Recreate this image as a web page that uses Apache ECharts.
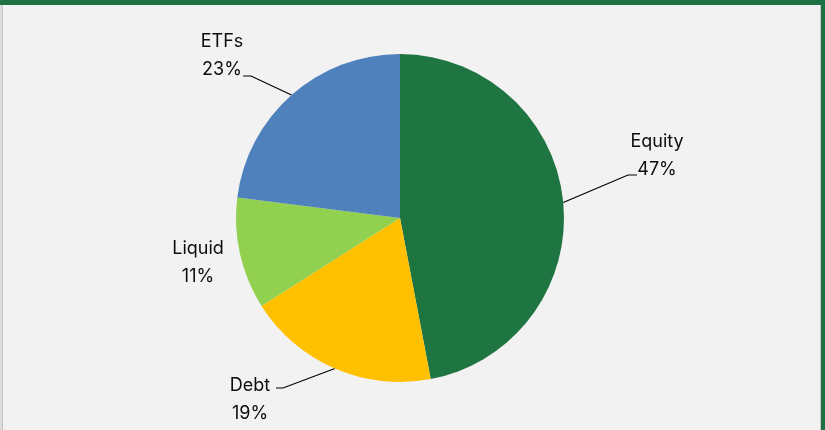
<!DOCTYPE html>
<html>
<head>
<meta charset="utf-8">
<script src="https://cdn.jsdelivr.net/npm/echarts@6/dist/echarts.min.js"></script>
<style>
  html, body { margin: 0; padding: 0; background: #f2f2f2; }
  #wrap { position: relative; width: 825px; height: 430px; background: #f2f2f2; overflow: hidden; }
  #chart { position: absolute; left: 0; top: 0; width: 825px; height: 430px; }
  .edge { position: absolute; }
</style>
</head>
<body>
<div id="wrap">
  <div id="chart"></div>
  <div class="edge" style="left:0;top:0;width:825px;height:5px;background:#1e7142;"></div>
  <div class="edge" style="left:0;top:5px;width:2px;height:425px;background:#dcdcdc;"></div>
  <div class="edge" style="left:2px;top:5px;width:1px;height:425px;background:#c4c4c4;"></div>
  <div class="edge" style="left:820px;top:5px;width:1px;height:425px;background:#c8c8c8;"></div>
  <div class="edge" style="left:821px;top:5px;width:4px;height:425px;background:#1e7142;"></div>
</div>
<script>
// asset allocation
var categories = ['Equity', 'Debt', 'Liquid', 'ETFs'];
var shares = [47, 19, 11, 23];
var colors = ['#1e7542', '#ffc000', '#92d050', '#4f81bd'];

// label placement (centre of the two-line block) and leader bends
var labelSpots = {
    Equity: { x: 657, y: 156, bend: [628, 175], end: [637, 175] },
    Debt:   { x: 250, y: 400, bend: [283, 388], end: [276, 388] },
    Liquid: { x: 198, y: 263 },
    ETFs:   { x: 222, y: 56,  bend: [251, 76],  end: [243, 76] }
};

var pieData = [];
for (var i = 0; i < categories.length; i++) {
    pieData.push({
        name: categories[i],
        value: shares[i],
        itemStyle: { color: colors[i] },
        labelLine: { show: categories[i] !== 'Liquid' }
    });
}

var chart = echarts.init(document.getElementById('chart'));
var option = {
    backgroundColor: '#f2f2f2',
    animation: false,
    series: [{
        type: 'pie',
        center: [400, 218],
        radius: [0, 164],
        startAngle: 90,
        clockwise: true,
        data: pieData,
        label: {
            show: true,
            position: 'outside',
            formatter: '{b}\n{d}%',
            fontFamily: 'Inter',
            fontSize: 18,
            lineHeight: 28,
            color: '#0d0d0d',
            align: 'center'
        },
        labelLine: {
            show: true,
            length: 20,
            length2: 8,
            lineStyle: { color: '#000', width: 1.2 }
        },
        labelLayout: function (params) {
            var spot = labelSpots[categories[params.dataIndex]];
            var out = { x: spot.x, y: spot.y, align: 'center', verticalAlign: 'middle' };
            if (spot.bend && params.labelLinePoints) {
                var pts = params.labelLinePoints;
                out.labelLinePoints = [pts[0], spot.bend, spot.end];
            }
            return out;
        }
    }]
};
chart.setOption(option);
</script>
</body>
</html>
